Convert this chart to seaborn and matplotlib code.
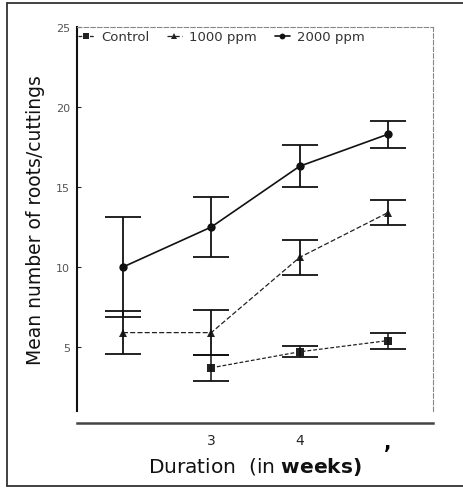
import matplotlib
matplotlib.use("Agg")
import matplotlib.pyplot as plt
from matplotlib.lines import Line2D
import numpy as np
import pandas as pd
import seaborn as sns

# Rooting response of cuttings over time (mean +/- error)
weeks = [2, 3, 4, 5]
series_names = ["Control", "1000 ppm", "2000 ppm"]
control_mean = [np.nan, 3.7, 4.7, 5.4]
control_err = [np.nan, 0.8, 0.35, 0.5]
ppm1000_mean = [5.9, 5.9, 10.6, 13.4]
ppm1000_err = [1.35, 1.4, 1.1, 0.8]
ppm2000_mean = [10.0, 12.5, 16.3, 18.3]
ppm2000_err = [3.1, 1.9, 1.3, 0.85]

x_ticks = [3, 4, 5]
x_tick_labels = ["3", "4", ","]
y_ticks = [5, 10, 15, 20, 25]

sns.set_style("white")
plt.rcParams["font.family"] = ["DejaVu Sans"]
plt.rcParams["mathtext.fontset"] = "custom"
plt.rcParams["mathtext.rm"] = "DejaVu Sans"
plt.rcParams["mathtext.bf"] = "DejaVu Sans:bold"

means = {"Control": control_mean, "1000 ppm": ppm1000_mean, "2000 ppm": ppm2000_mean}
errs = {"Control": control_err, "1000 ppm": ppm1000_err, "2000 ppm": ppm2000_err}

rows = []
for name in series_names:
    for w, m, e in zip(weeks, means[name], errs[name]):
        if not np.isnan(m):
            rows.append({"week": w, "roots": m, "err": e, "treatment": name})
df = pd.DataFrame(rows)

fig = plt.figure(figsize=(4.64, 4.89), dpi=100)
ax = fig.add_axes([0.166, 0.1575, 0.767, 0.785])

markers = {"Control": "s", "1000 ppm": "^", "2000 ppm": "o"}
dashes = {"Control": (3, 1.6), "1000 ppm": (4, 1.8), "2000 ppm": ""}
palette = {"Control": "#222222", "1000 ppm": "#222222", "2000 ppm": "#111111"}
sizes = {"Control": 0.9, "1000 ppm": 0.9, "2000 ppm": 1.2}

sns.lineplot(data=df, x="week", y="roots", hue="treatment", style="treatment",
             hue_order=series_names, style_order=series_names,
             markers=markers, dashes=dashes, palette=palette,
             size="treatment", sizes=sizes, size_order=series_names,
             markersize=6, markeredgewidth=0, ax=ax, legend=True)

# error bars with wide caps
for name in series_names:
    sub = df[df["treatment"] == name]
    ax.errorbar(sub["week"], sub["roots"], yerr=sub["err"], fmt="none",
                ecolor="#111111", elinewidth=1.3 if name != "Control" else 1.1,
                capsize=13, capthick=1.3)

ax.set_xlim(1.48, 5.51)
ax.set_ylim(1, 25)
ax.set_yticks(y_ticks)
ax.set_yticklabels([str(t) for t in y_ticks], fontsize=8, color="#555555")
ax.set_xticks(x_ticks)
ax.set_xticklabels(x_tick_labels, fontsize=9, color="#222222")
ax.tick_params(axis="y", direction="in", length=3, width=0.8, pad=5, left=True)
ax.tick_params(axis="x", length=0, pad=7)

for side in ("top", "right"):
    ax.spines[side].set_linestyle((0, (4, 2)))
    ax.spines[side].set_color("#888888")
    ax.spines[side].set_linewidth(0.8)
ax.spines["left"].set_color("#111111")
ax.spines["left"].set_linewidth(1.5)
ax.spines["bottom"].set_position(("outward", 9))
ax.spines["bottom"].set_color("#444444")
ax.spines["bottom"].set_linewidth(1.8)

ax.set_ylabel("Mean number of roots/cuttings", fontsize=13.5, color="#111111", labelpad=8)
ax.set_xlabel(r"Duration  (in $\mathbf{weeks)}$", fontsize=14.5, color="#111111",
              va="center")
ax.xaxis.set_label_coords(0.5, -0.143)

handles, labels = ax.get_legend_handles_labels()
keep = [(h, l) for h, l in zip(handles, labels) if l in series_names]
leg = ax.legend([h for h, _ in keep], [l for _, l in keep], ncol=3, frameon=False,
                loc="upper left", bbox_to_anchor=(0.0, 0.995), borderaxespad=0,
                borderpad=0.1, fontsize=9.5, handlelength=1.15, handletextpad=0.55,
                columnspacing=1.35, labelcolor="#333333", markerscale=0.7)

# heavy comma label at week 5
fig.canvas.draw()
last = ax.xaxis.get_major_ticks()[2].label1
last.set_fontsize(14)
last.set_fontweight("bold")
last.set_color("#000000")

# page border around the chart
for (xs, ys) in [([0.015, 0.015], [0.992, 0.004]),
                 ([0.015, 1.0], [0.992, 0.992]),
                 ([0.015, 1.0], [0.004, 0.004])]:
    fig.add_artist(Line2D(xs, ys, transform=fig.transFigure, color="#333333", lw=1.3))

fig.savefig("out.png", dpi=100)
